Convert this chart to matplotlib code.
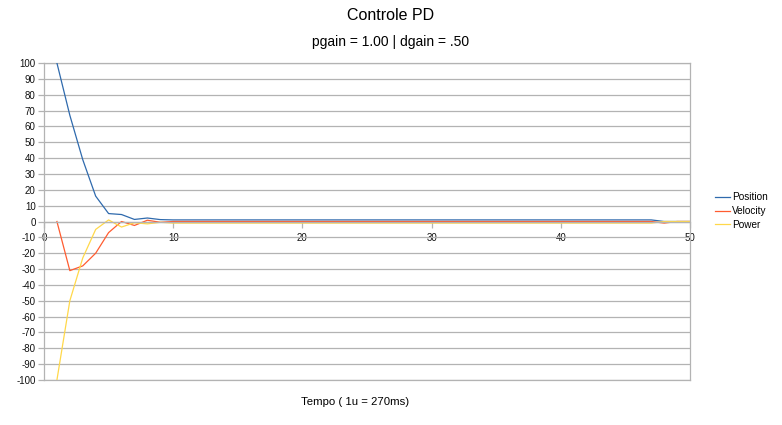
import matplotlib
matplotlib.use("Agg")
import matplotlib.pyplot as plt

plt.rcParams['font.family'] = ['Liberation Sans', 'DejaVu Sans']
plt.rcParams['axes.unicode_minus'] = False

# sample index (1u = 270ms)
steps = list(range(1, 51))

# values, x = 1..50
position = [100, 67, 39, 16, 5, 4.4, 1.3, 2.2, 1.2, 1] + [1] * 37 + [0, 0, 0]
velocity = [0, -31, -28, -20, -7, 0, -2.5, 0.8, -0.5, 0] + [0] * 37 + [-1, 0, 0]
power = [-100, -50, -23, -5, 1, -3.5, -0.8, -1.5, -0.5, -1] + [-1] * 37 + [0, 0, 0]

series_names = ['Position', 'Velocity', 'Power']
series_colors = ['#2f6aad', '#ff5c30', '#ffd84a']

grid_col = '#b3b3b3'

fig = plt.figure(figsize=(7.82, 4.25), dpi=100)
ax = fig.add_axes([44 / 782, 1 - 380 / 425, 646 / 782, 317 / 425])

for vals, name, col in zip([position, velocity, power], series_names, series_colors):
    ax.plot(steps, vals, color=col, lw=0.9, label=name)

ax.set_xlim(0, 50)
ax.set_ylim(-100, 100)
ax.set_xticks(range(0, 51, 10))
ax.set_yticks(range(-100, 101, 10))

ax.yaxis.grid(True, color=grid_col, lw=0.9)
ax.set_axisbelow(True)
# top / bottom borders are just the +-100 gridlines
ax.axhline(100, color=grid_col, lw=0.9, clip_on=False, zorder=0.5)
ax.axhline(-100, color=grid_col, lw=0.9, clip_on=False, zorder=0.5)

# x axis crosses at y = 0
ax.spines['bottom'].set_position(('data', 0))
ax.spines['top'].set_visible(False)
for s in ['bottom', 'left', 'right']:
    ax.spines[s].set_color(grid_col)
    ax.spines[s].set_linewidth(0.9)

ax.tick_params(axis='both', direction='out', length=4, width=0.9,
               color=grid_col, labelsize=7, labelcolor='#111111')
ax.tick_params(axis='x', pad=4)
ax.tick_params(axis='y', pad=2)

fig.text(0.5, 1 - 16 / 425, 'Controle PD', ha='center', va='center', fontsize=11.5)
fig.text(0.5, 1 - 42 / 425, 'pgain = 1.00 | dgain = .50', ha='center', va='center', fontsize=10)
fig.text(355 / 782, 1 - 402 / 425, 'Tempo ( 1u = 270ms)', ha='center', va='center', fontsize=8.2)

fig.legend(loc='center left', bbox_to_anchor=(715 / 782, 1 - 211 / 425),
           frameon=False, fontsize=7.2, handlelength=1.5, handletextpad=0.2,
           labelspacing=0.35, borderaxespad=0, borderpad=0)

fig.savefig('out.png', dpi=100)
